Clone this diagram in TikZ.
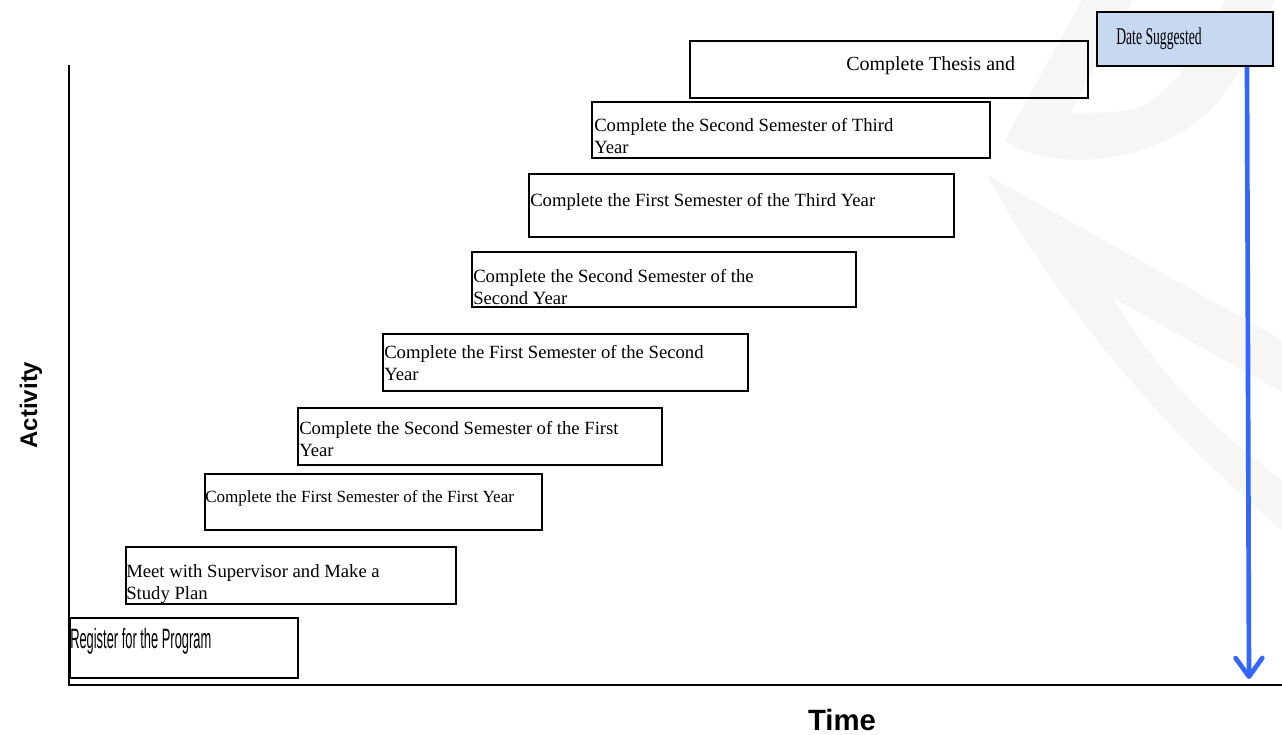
\documentclass[tikz,border=0pt]{standalone}
\usepackage{fontspec}
\setmainfont{Liberation Serif}
\newfontfamily\arialf{Liberation Sans}
\usepackage{graphicx}
\usetikzlibrary{arrows.meta}
\definecolor{datefill}{HTML}{C6D9F1}
\definecolor{arrowblue}{HTML}{3366FF}
\definecolor{wmgrey}{HTML}{F6F6F4}
\newcommand{\twoline}[2]{\vtop{\baselineskip=16.5pt\hbox{#1}\hbox{#2}}}
\begin{document}
\begin{tikzpicture}[x=0.75pt,y=-0.75pt,
  actbox/.style={draw=black, line width=1.5pt, rectangle, inner sep=0pt, anchor=north west},
  acttext/.style={anchor=base west, inner sep=0pt, font=\fontsize{14pt}{16pt}\selectfont},
  axisline/.style={draw=black, line width=1.6pt},
  axislabel/.style={inner sep=0pt, font=\arialf\bfseries\fontsize{18pt}{20pt}\selectfont},
  timeline/.style={draw=arrowblue, line width=3.5pt, -{Straight Barb[length=14pt,width=20pt,line cap=round,line join=round]}},
]
\useasboundingbox[fill=white] (0,0) rectangle (1282,735);

% faint watermark
\fill[wmgrey] (1082,0) -- (1005,140) .. controls (1040,170) and (1150,170) .. (1210,110)
  .. controls (1240,80) and (1262,30) .. (1275,0) -- (1225,0)
  .. controls (1200,50) and (1170,100) .. (1130,110)
  .. controls (1110,113) and (1085,113) .. (1070,113) -- (1133,0) -- cycle;
\fill[wmgrey] (987,175) .. controls (1050,290) and (1150,420) .. (1282,530) -- (1282,480)
  .. controls (1200,420) and (1150,360) .. (1113,298) -- (1282,392) -- (1282,340) -- cycle;

% axes
\coordinate (ytop) at (69,65);
\coordinate (origin) at (69,685);
\coordinate (xend) at (1282,685);
\draw[axisline] (ytop) -- (origin) -- (xend);

% activity boxes
\node[actbox, minimum width=171pt,   minimum height=45pt]    (b1)  at (69,617)  {};
\node[actbox, minimum width=247.5pt, minimum height=42.75pt] (b2)  at (125,546) {};
\node[actbox, minimum width=252.75pt,minimum height=42pt]    (b3)  at (204,473) {};
\node[actbox, minimum width=273pt,   minimum height=42.75pt] (b4)  at (297,407) {};
\node[actbox, minimum width=273.75pt,minimum height=42.75pt] (b5)  at (382,333) {};
\node[actbox, minimum width=288pt,   minimum height=41.25pt] (b6)  at (471,251) {};
\node[actbox, minimum width=318.75pt,minimum height=47.25pt] (b7)  at (528,173) {};
\node[actbox, minimum width=298.5pt, minimum height=42pt]    (b8)  at (591,101) {};
\node[actbox, minimum width=298.5pt, minimum height=42.75pt] (b9)  at (689,40)  {};
\node[actbox, fill=datefill, minimum width=132pt, minimum height=40.5pt] (date) at (1096,11) {};

% texts
\node[acttext, font=\arialf\fontsize{21pt}{22pt}\selectfont] (t1) at (70,648) {\scalebox{0.46}[1]{Register for the Program}};
\node[acttext] (t2) at (126,577) {\twoline{Meet with Supervisor and Make a}{Study Plan}};
\node[acttext, font=\fontsize{12.8pt}{15pt}\selectfont] (t3) at (205,502) {Complete the First Semester of the First Year};
\node[acttext] (t4) at (299,434) {\twoline{Complete the Second Semester of the First}{Year}};
\node[acttext] (t5) at (384,358) {\twoline{Complete the First Semester of the Second}{Year}};
\node[acttext] (t6) at (473,282) {\twoline{Complete the Second Semester of the}{Second Year}};
\node[acttext] (t7) at (530,206) {Complete the First Semester of the Third Year};
\node[acttext] (t8) at (594,132) {\twoline{Complete the Second Semester of Third}{Year}};
\node[acttext, font=\fontsize{15pt}{17pt}\selectfont] (t9) at (846,70) {Complete Thesis and};
\node[acttext, font=\fontsize{18pt}{20pt}\selectfont] (t10) at (1116,45) {\scalebox{0.57}[1]{Date Suggested}};

% axis labels
\node[axislabel, rotate=90] (activity) at (31,405) {Activity};
\node[axislabel, font=\arialf\bfseries\fontsize{22pt}{24pt}\selectfont] (time) at (842,720) {Time};

% suggested-date arrow
\coordinate (arrowtop) at ([xshift=46.5pt]date.south);
\coordinate (arrowend) at (1249,679);
\draw[timeline] (arrowtop) -- (arrowend);
\end{tikzpicture}
\end{document}
